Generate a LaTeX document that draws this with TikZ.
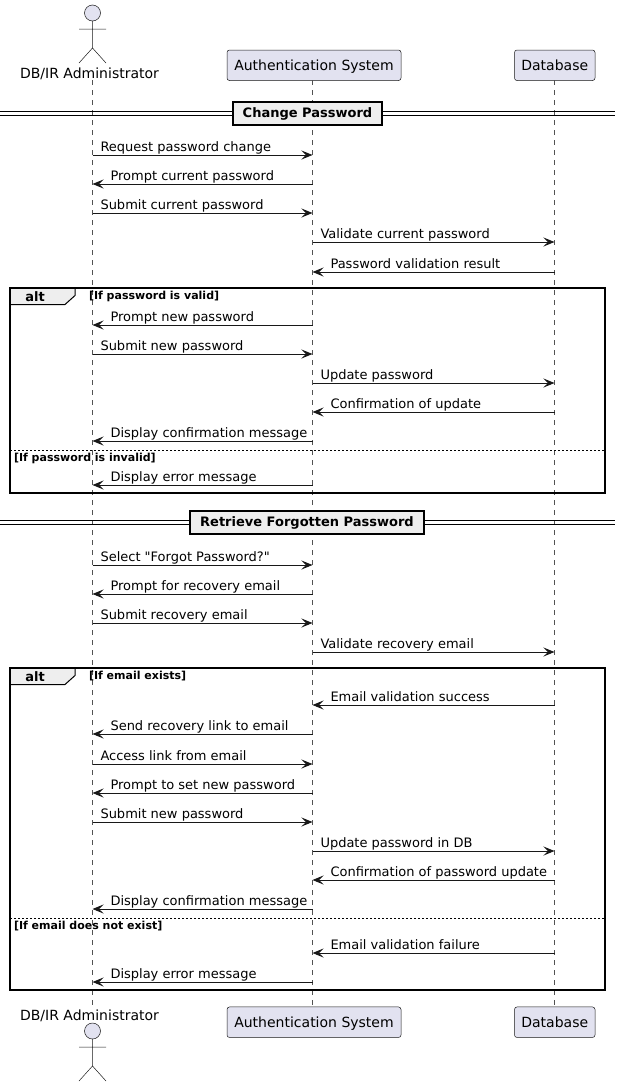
\documentclass[tikz,border=0pt]{standalone}
\usepackage{fontspec}
\setmainfont{DejaVu Sans}[Ligatures=TeXOff]
\usetikzlibrary{arrows.meta,calc}
\definecolor{pfill}{HTML}{E2E2F0}
\definecolor{pline}{HTML}{181818}
\definecolor{gfill}{HTML}{EEEEEE}
\tikzset{
 x=1pt,y=-1pt,
 every node/.style={inner sep=0pt,outer sep=0pt},
 participantbox/.style={draw=pline,fill=pfill,line width=.5pt,rounded corners=2.5pt,minimum height=30.5pt,text height=12pt,text depth=2pt,font=\fontsize{14}{16}\selectfont,text=black,anchor=center},
 actorname/.style={font=\fontsize{14}{16}\selectfont,anchor=base,text=black},
 actorline/.style={draw=pline,line width=.5pt},
 lifeline/.style={draw=pline!75!white,line width=.5pt,dash pattern=on 5pt off 5pt},
 msgline/.style={draw=pline,line width=1pt,-{Stealth[length=11pt,width=9pt,inset=4.5pt,fill=pline]}},
 msglabel/.style={font=\fontsize{13}{15}\selectfont,anchor=base west,text=black},
 frameline/.style={draw=black,line width=2pt},
 tabshape/.style={draw=black,fill=gfill,line width=1pt},
 altlabel/.style={font=\bfseries\fontsize{13}{15}\selectfont,anchor=base,text=black},
 guard/.style={font=\bfseries\fontsize{11}{13}\selectfont,anchor=base west,text=black},
 divbox/.style={draw=black,fill=gfill,line width=2pt,font=\bfseries\fontsize{13}{15}\selectfont,anchor=center,minimum height=23pt,text height=11pt,text depth=2pt,text=black},
 divline/.style={draw=black,line width=1pt},
 altsep/.style={draw=black,line width=1pt,dash pattern=on 2pt off 2pt},
}
\newcount\msgno
\newcommand{\msgR}[4]{\global\advance\msgno by 1
 \coordinate (f\the\msgno) at (#2T |- 0,#1);
 \coordinate (g\the\msgno) at (#3T |- 0,#1);
 \draw[msgline] (f\the\msgno) -- (g\the\msgno);
 \node[msglabel] (l\the\msgno) at ($(f\the\msgno)+(8,-4)$) {#4};}
\newcommand{\msgL}[4]{\global\advance\msgno by 1
 \coordinate (f\the\msgno) at (#2T |- 0,#1);
 \coordinate (g\the\msgno) at (#3T |- 0,#1);
 \draw[msgline] (f\the\msgno) -- (g\the\msgno);
 \node[msglabel] (l\the\msgno) at ($(g\the\msgno)+(18,-4)$) {#4};}
\newcommand{\actorfig}[2]{% centre x, head centre y
 \draw[actorline,fill=pfill] (#1,#2) circle (8);
 \draw[actorline] (#1,#2+8) -- (#1,#2+35)
   (#1-13.5,#2+16) -- (#1+13.5,#2+16)
   (#1-13.5,#2+50) -- (#1,#2+35) -- (#1+13.5,#2+50);}
\newcommand{\altframe}[4]{% name, top, bottom, label
 \draw[tabshape] (10,#2) -- (75,#2) -- (75,#2+8) -- (65,#2+17) -- (10,#2+17) -- cycle;
 \node[altlabel] (#1alt) at (35,#2+14) {alt};
 \node[guard] (#1guard) at (89,#2+12) {#4};
 \draw[frameline] (10,#2) rectangle (605,#3);}
\begin{document}
\begin{tikzpicture}
\useasboundingbox (0,0) rectangle (620,1087);
\coordinate (aT) at (92.5,80);
\coordinate (aB) at (92.5,1006);
\coordinate (sT) at (312.5,80);
\coordinate (sB) at (312.5,1006);
\coordinate (dT) at (554.5,80);
\coordinate (dB) at (554.5,1006);
\draw[lifeline] (aT) -- (aB);
\draw[lifeline] (sT) -- (sB);
\draw[lifeline] (dT) -- (dB);
\actorfig{92.5}{13}
\node[actorname] (aHead) at (89.5,78) {DB/IR Administrator};
\node[participantbox,minimum width=174pt] (sHead) at (314,65.25) {Authentication System};
\node[participantbox,minimum width=80.5pt] (dHead) at (554.75,65.25) {Database};
\actorfig{92.5}{1031}
\node[actorname] (aFoot) at (89.5,1020) {DB/IR Administrator};
\node[participantbox,minimum width=174pt] (sFoot) at (314,1022.2) {Authentication System};
\node[participantbox,minimum width=80.5pt] (dFoot) at (554.75,1022.2) {Database};
\coordinate (d1a) at (0,111.5); \coordinate (d1b) at (615,111.5);
\coordinate (d1c) at (0,115); \coordinate (d1d) at (615,115);
\draw[divline] (d1a) -- (d1b);
\draw[divline] (d1c) -- (d1d);
\node[divbox,minimum width=149pt] (div1) at (307.5,113) {Change Password\hspace{6pt}};
\msgR{155}{a}{s}{Request password change}
\msgL{184}{s}{a}{Prompt current password}
\msgR{213}{a}{s}{Submit current password}
\msgR{242}{s}{d}{Validate current password}
\msgL{272}{d}{s}{Password validation result}
\altframe{x}{287.5}{493}{[If password is valid]}
\msgL{325}{s}{a}{Prompt new password}
\msgR{354}{a}{s}{Submit new password}
\msgR{383}{s}{d}{Update password}
\msgL{412}{d}{s}{Confirmation of update}
\msgL{441}{s}{a}{Display confirmation message}
\coordinate (s1a) at (10,450); \coordinate (s1b) at (605,450);
\draw[altsep] (s1a) -- (s1b);
\node[guard] (g1) at (14,461) {[If password is invalid]};
\msgL{485}{s}{a}{Display error message}
\coordinate (d2a) at (0,520.5); \coordinate (d2b) at (615,520.5);
\coordinate (d2c) at (0,524); \coordinate (d2d) at (615,524);
\draw[divline] (d2a) -- (d2b);
\draw[divline] (d2c) -- (d2d);
\node[divbox,minimum width=234pt] (div2) at (307,522) {Retrieve Forgotten Password\hspace{6pt}};
\msgR{565}{a}{s}{Select "Forgot Password?"}
\msgL{594}{s}{a}{Prompt for recovery email}
\msgR{623}{a}{s}{Submit recovery email}
\msgR{652}{s}{d}{Validate recovery email}
\altframe{y}{667.5}{990}{[If email exists]}
\msgL{705}{d}{s}{Email validation success}
\msgL{734}{s}{a}{Send recovery link to email}
\msgR{764}{a}{s}{Access link from email}
\msgL{793}{s}{a}{Prompt to set new password}
\msgR{822}{a}{s}{Submit new password}
\msgR{851}{s}{d}{Update password in DB}
\msgL{880}{d}{s}{Confirmation of password update}
\msgL{909}{s}{a}{Display confirmation message}
\coordinate (s2a) at (10,918); \coordinate (s2b) at (605,918);
\draw[altsep] (s2a) -- (s2b);
\node[guard] (g2) at (14,929) {[If email does not exist]};
\msgL{953}{d}{s}{Email validation failure}
\msgL{982}{s}{a}{Display error message}
\end{tikzpicture}
\end{document}
